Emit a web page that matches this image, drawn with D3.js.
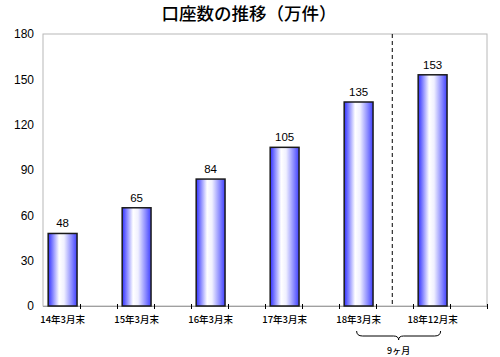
<!DOCTYPE html>
<html><head><meta charset="utf-8">
<script src="https://cdn.jsdelivr.net/npm/d3@7"></script>
<style>body{margin:0;background:#fff}svg{display:block}</style>
</head><body><svg id="c" width="500" height="357"></svg>
<script>
const title = "口座数の推移（万件）";
const categories = ["14年3月末","15年3月末","16年3月末","17年3月末","18年3月末","18年12月末"];
const values = [48, 65, 84, 105, 135, 153];
const yTicks = [0, 30, 60, 90, 120, 150, 180];
const braceLabel = "9ヶ月";

const svg = d3.select("#c");
const L = 43, R = 487, T = 34, B = 306;
const x = d3.scaleBand().domain(categories).range([L, R]).padding(0);
const y = d3.scaleLinear().domain([0, 180]).range([B, T]);
const bw = x.bandwidth();
const barOff = bw * 0.07, barW = bw * 0.39;
const cx = c => x(c) + barOff + barW / 2;

const defs = svg.append("defs");
const g = defs.append("linearGradient").attr("id", "bg").attr("x1", "0").attr("x2", "1").attr("y1", "0").attr("y2", "0");
[[0,"#3030ff"],[0.12,"#7070ff"],[0.38,"#ffffff"],[0.55,"#f0f0ff"],[0.8,"#9090ff"],[1,"#4040ff"]]
  .forEach(([o, c]) => g.append("stop").attr("offset", o).attr("stop-color", c));

// title
svg.append("text").attr("x", 249).attr("y", 20).attr("text-anchor", "middle")
  .attr("font-family", "Noto Sans CJK JP").attr("font-size", 17.5).attr("font-weight", 500)
  .attr("fill", "#000").text(title);

// frame
svg.append("rect").attr("x", L).attr("y", T).attr("width", R - L).attr("height", B - T)
  .attr("fill", "none").attr("stroke", "#b8b8b8").attr("stroke-width", 1);

// y axis labels
const ya = svg.append("g").attr("transform", `translate(${L},0)`)
  .call(d3.axisLeft(y).tickValues(yTicks).tickSize(0).tickPadding(9));
ya.select(".domain").remove();
ya.selectAll("text").attr("font-family", "Liberation Sans, Arial").attr("font-size", 12).attr("fill", "#000");

// bottom axis line
svg.append("line").attr("x1", L).attr("x2", R).attr("y1", B + 0.5).attr("y2", B + 0.5)
  .attr("stroke", "#a0a0a0").attr("stroke-width", 1.2);

// x ticks
const tickXs = [];
categories.forEach(c => { tickXs.push(x(c) + bw / 2); tickXs.push(x(c) + bw); });
svg.selectAll("line.tk").data(tickXs).enter().append("line").attr("class", "tk")
  .attr("x1", d => Math.round(d) + 0.5).attr("x2", d => Math.round(d) + 0.5)
  .attr("y1", B - 2).attr("y2", B + 3).attr("stroke", "#000").attr("stroke-width", 1);

// dashed separator
const dx = x(categories[5]) - bw * 0.28;
svg.append("line").attr("x1", dx).attr("x2", dx).attr("y1", T).attr("y2", B)
  .attr("stroke", "#000").attr("stroke-width", 1).attr("stroke-dasharray", "4,3");

// bars
svg.selectAll("rect.bar").data(categories).enter().append("rect").attr("class", "bar")
  .attr("x", c => x(c) + barOff).attr("width", barW)
  .attr("y", (c, i) => y(values[i])).attr("height", (c, i) => B - y(values[i]))
  .attr("fill", "url(#bg)").attr("stroke", "#1a1a1a").attr("stroke-width", 1.5);

// value labels
svg.selectAll("text.val").data(categories).enter().append("text").attr("class", "val")
  .attr("x", cx).attr("y", (c, i) => y(values[i]) - 6).attr("text-anchor", "middle")
  .attr("font-family", "Liberation Sans, Arial").attr("font-size", 11.5).attr("fill", "#000")
  .text((c, i) => values[i]);

// category labels
svg.selectAll("text.cat").data(categories).enter().append("text").attr("class", "cat")
  .attr("x", cx).attr("y", 323).attr("text-anchor", "middle")
  .attr("font-family", "Noto Sans CJK JP").attr("font-size", 9.5).attr("font-weight", 500).attr("fill", "#000")
  .text(c => c);

// brace
const bx1 = cx(categories[4]) - 2, bx2 = cx(categories[5]) + 8, bm = (bx1 + bx2) / 2;
const by = 331;
svg.append("path")
  .attr("d", `M${bx1},${by} Q${bx1},${by+5} ${bx1+6},${by+5} L${bm-5},${by+5} Q${bm},${by+5} ${bm},${by+9} Q${bm},${by+5} ${bm+5},${by+5} L${bx2-6},${by+5} Q${bx2},${by+5} ${bx2},${by}`)
  .attr("fill", "none").attr("stroke", "#000").attr("stroke-width", 1);
svg.append("text").attr("x", bm).attr("y", 354).attr("text-anchor", "middle")
  .attr("font-family", "Noto Sans CJK JP").attr("font-size", 9).attr("font-weight", 500).attr("fill", "#000")
  .text(braceLabel);
</script></body></html>
